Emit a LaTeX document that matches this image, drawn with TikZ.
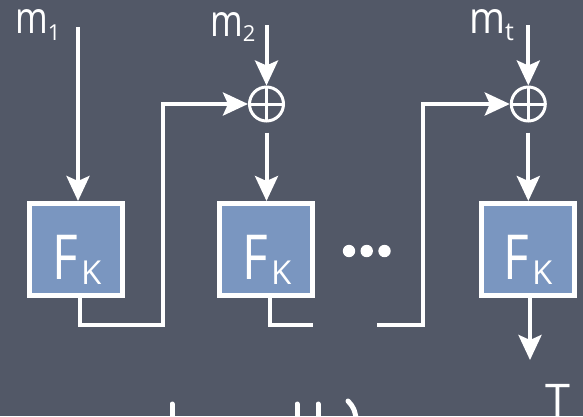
\documentclass[tikz,border=0pt]{standalone}
\usepackage{fontspec}
\setmainfont{Open Sans}
\usetikzlibrary{arrows.meta}
\definecolor{bg}{RGB}{82,88,103}
\definecolor{boxfill}{RGB}{122,150,192}
\begin{document}
\begin{tikzpicture}[x=1pt,y=-1pt,
  wire/.style={white,line width=4pt},
  arr/.style={wire,-{Stealth[length=25pt,width=23pt,inset=5pt]}},
  frag/.style={white,line width=5pt,line cap=round},
  fbox/.style={draw=white,line width=5pt,fill=boxfill,minimum width=93pt,minimum height=92pt,inner sep=0pt},
  xorn/.style={circle,draw=white,line width=3pt,minimum size=34pt,inner sep=0pt,
    path picture={\draw[white,line width=3pt] (path picture bounding box.north) -- (path picture bounding box.south)
      (path picture bounding box.west) -- (path picture bounding box.east);}},
  lbl/.style={text=white,inner sep=0pt}]
\useasboundingbox (0,0) rectangle (583,416);
\fill[bg] (0,0) rectangle (583,416);
\clip (0,0) rectangle (583,416);

% boxes
\node[fbox] (box1) at (76,249.5) {};
\node[fbox] (box2) at (266,249.5) {};
\node[fbox] (box3) at (527.5,249.5) {};
\newcommand{\fklabel}{\scalebox{0.8}[1]{\fontsize{62}{62}\selectfont F}\hspace{3pt}\raisebox{-5pt}{\fontsize{33}{33}\selectfont K}}
\node[lbl,anchor=base] (fk1) at (77,279) {\fklabel};
\node[lbl,anchor=base] (fk2) at (267,279) {\fklabel};
\node[lbl,anchor=base] (fk3) at (528,279) {\fklabel};

% xor nodes
\node[xorn] (xor2) at (266.5,104) {};
\node[xorn] (xor3) at (528.3,104) {};

% message labels
\node[lbl,anchor=base west] (m1) at (15,33) {\scalebox{0.8}[1]{\fontsize{44}{44}\selectfont m}\raisebox{-7pt}{\fontsize{22}{22}\selectfont 1}};
\node[lbl,anchor=base west] (m2) at (210,36) {\scalebox{0.8}[1]{\fontsize{44}{44}\selectfont m}\raisebox{-5pt}{\fontsize{22}{22}\selectfont 2}};
\node[lbl,anchor=base west] (mt) at (469,33) {\scalebox{0.88}[1]{\fontsize{44}{44}\selectfont m}\raisebox{-7pt}{\fontsize{25}{25}\selectfont t}};
\node[lbl,anchor=north] (T) at (558,384) {\fontsize{45}{45}\selectfont T};

% coordinates for free ends
\coordinate (m1s) at (78,27);
\coordinate (m2s) at (266.5,25);
\coordinate (mts) at (528.3,25);
\coordinate (c1) at (163,325);
\coordinate (c2) at (313,325);
\coordinate (c3s) at (377,325);
\coordinate (c3) at (423,325);
\coordinate (tout) at (530,360);

% connectors
\draw[arr] (m1s) -- (m1s |- box1.north);
\draw[arr] (m2s) -- (xor2.north);
\draw[arr] (mts) -- (xor3.north);
\draw[arr] ([xshift=4pt]box1.south) |- (c1) |- (xor2.west);
\draw[arr] ([yshift=-10pt]xor2.south) -- (xor2 |- box2.north);
\draw[wire] ([xshift=4pt]box2.south) |- (c2);
\draw[arr] (c3s) -- (c3) |- (xor3.west);
\draw[arr] ([yshift=-10pt]xor3.south) -- (xor3 |- box3.north);
\draw[arr] ([xshift=2.5pt]box3.south) -- (tout);

% dots
\fill[white] (349,251) circle (6.2);
\fill[white] (366.7,251) circle (6.2);
\fill[white] (384.5,251) circle (6.2);

% cut-off text fragments at the bottom edge
\draw[frag] (172,404) -- (172,422);
\draw[frag] (297,404) -- (297,422);
\draw[frag] (318,404) -- (318,422);
\draw[frag] (348,401) .. controls (354,408) .. (357,422);
\end{tikzpicture}
\end{document}
